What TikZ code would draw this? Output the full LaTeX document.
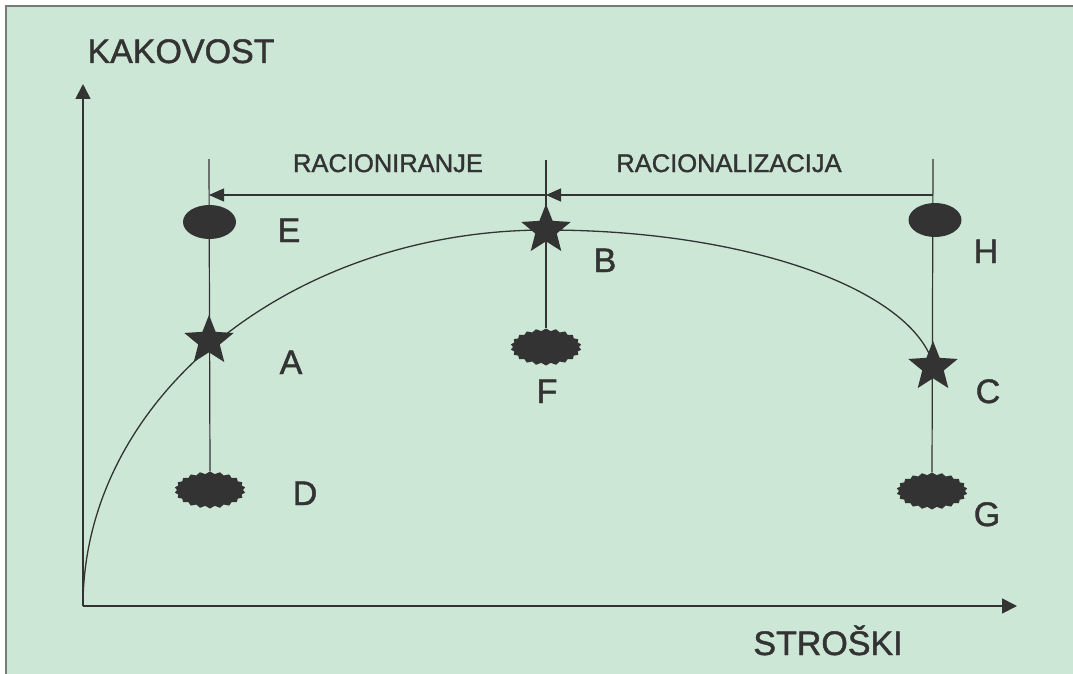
\documentclass[tikz,border=0pt]{standalone}
\usepackage{fontspec}
\setmainfont{Liberation Sans}
\newfontfamily\labelfont{Liberation Sans}[FakeBold=1.3]
\usetikzlibrary{arrows.meta,shapes.geometric,shapes.symbols}
\definecolor{bggreen}{HTML}{CCE7D6}
\definecolor{ink}{HTML}{333333}
\definecolor{framegray}{HTML}{7A7A7A}

\begin{document}
\begin{tikzpicture}[x=1pt,y=-1pt,
  thinline/.style={draw=ink, line width=1.2pt},
  axis/.style={draw=ink, line width=1.8pt, -{Triangle[length=15pt,width=15pt]}},
  dimline/.style={draw=ink, line width=1.1pt, -{Triangle[length=15pt,width=13pt]}},
  starmark/.style={shape=star, star points=5, star point ratio=2.3, minimum size=52pt, inner sep=0pt, fill=ink},
  blob/.style={shape=ellipse, minimum width=53pt, minimum height=34pt, inner sep=0pt, fill=ink},
  burst/.style={shape=starburst, starburst points=22, starburst point height=2.5pt, random starburst=0, minimum width=71pt, minimum height=37pt, inner sep=0pt, fill=ink},
  letter/.style={font=\labelfont\fontsize{34}{40}\selectfont, text=ink, anchor=base, inner sep=0pt},
  span/.style={font=\labelfont\fontsize{25.5}{30}\selectfont, text=ink, anchor=base, inner sep=0pt}
]
\useasboundingbox (0,0) rectangle (1073,674);

% background and frame
\fill[white] (0,0) rectangle (1073,674);
\fill[bggreen] (6,6) rectangle (1073,674);
\draw[framegray, line width=2pt] (6,674) -- (6,6) -- (1073,6);

% axes
\coordinate (O) at (83,606);
\coordinate (Ytip) at (83,84);
\coordinate (Xtip) at (1017,606);
\draw[axis] (O) -- (Ytip);
\draw[axis] (O) -- (Xtip);
\node[letter] (ylab) at (181,63) {KAKOVOST};
\node[letter] (xlab) at (828,655) {STROŠKI};

% tops of the vertical guide lines
\coordinate (tL) at (209,159);
\coordinate (tM) at (546,160);
\coordinate (tR) at (933,159);
\coordinate (dL) at (209,195);
\coordinate (dM) at (546,195);
\coordinate (dR) at (933,195);

% markers
\node[blob] (E) at (209.5,222) {};
\node[blob] (H) at (935,220) {};
\node[burst] (D) at (210,490) {};
\node[burst] (F) at (546,347) {};
\node[burst] (G) at (932,491) {};

% guide lines
\draw[thinline] (tL) -- (D.north);
\draw[thinline] (tM) -- (F.north);
\draw[thinline] (tR) -- (G.north);

% dimension arrows
\draw[dimline] (dR) -- (dM);
\draw[dimline] (dM) -- (dL);
\node[span] (rac1) at (388,172) {RACIONIRANJE};
\node[span] (rac2) at (729,172) {RACIONALIZACIJA};

% quality-cost curve
\draw[draw=ink, line width=1.3pt] (O)
  arc[start angle=180, end angle=270, x radius=463, y radius=376]
  arc[start angle=270, end angle=352.9, x radius=390, y radius=152];

% optimum points
\node[starmark] (A) at (209,341) {};
\node[starmark] (B) at (546,230) {};
\node[starmark] (C) at (933,367) {};

% labels
\node[letter] (lE) at (289,242) {E};
\node[letter] (lA) at (291,374) {A};
\node[letter] (lD) at (305,505) {D};
\node[letter] (lB) at (605,272) {B};
\node[letter] (lF) at (547,403) {F};
\node[letter] (lH) at (986,263) {H};
\node[letter] (lC) at (988,403) {C};
\node[letter] (lG) at (987,526) {G};
\end{tikzpicture}
\end{document}
